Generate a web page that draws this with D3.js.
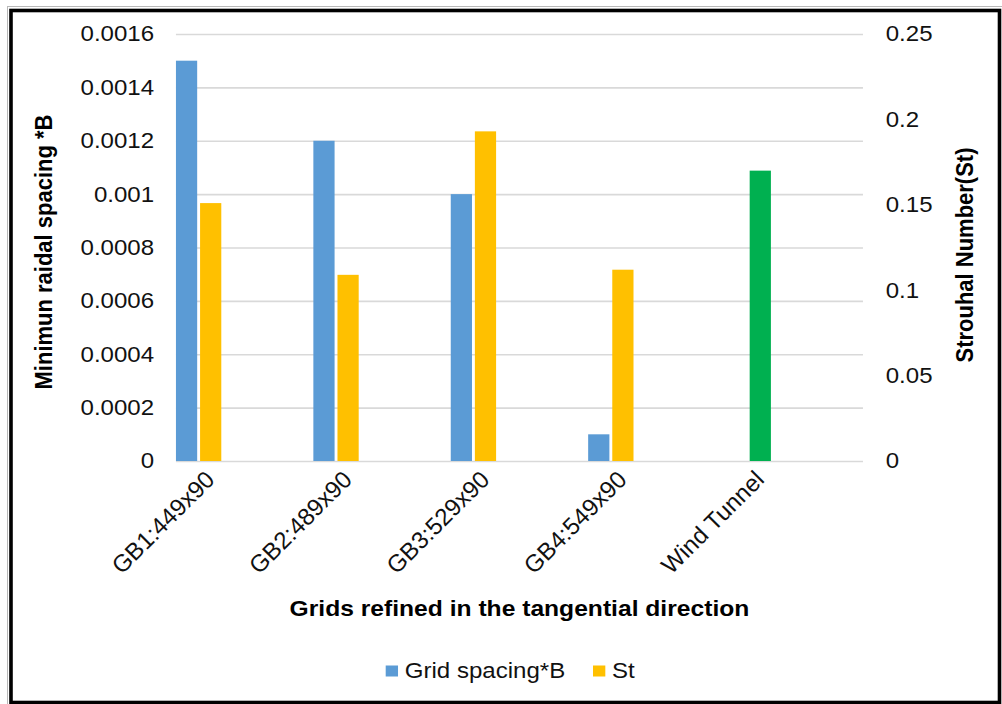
<!DOCTYPE html>
<html>
<head>
<meta charset="utf-8">
<script src="https://cdn.jsdelivr.net/npm/d3@7"></script>
<style>
  html, body { margin: 0; padding: 0; background: #fff; }
  svg { display: block; font-family: "Liberation Sans", Arial, sans-serif; }
</style>
</head>
<body>
<svg id="chart" width="1002" height="704"></svg>
<script>
// ---- data ----
const categories = ["GB1:449x90", "GB2:489x90", "GB3:529x90", "GB4:549x90", "Wind Tunnel"];
const gridSpacing = [0.0015, 0.0012, 0.001, 0.0001, null];
const stValues = [0.151, 0.109, 0.193, 0.112, 0.17];
const seriesNames = ["Grid spacing*B", "St"];
const leftTicks = [0, 0.0002, 0.0004, 0.0006, 0.0008, 0.001, 0.0012, 0.0014, 0.0016];
const leftTickLabels = ["0", "0.0002", "0.0004", "0.0006", "0.0008", "0.001", "0.0012", "0.0014", "0.0016"];
const rightTicks = [0, 0.05, 0.1, 0.15, 0.2, 0.25];
const rightTickLabels = ["0", "0.05", "0.1", "0.15", "0.2", "0.25"];
const leftTitle = "Minimun raidal spacing *B";
const rightTitle = "Strouhal Number(St)";
const xTitle = "Grids refined in the tangential direction";

// ---- styles ----
const colBlue = "#5b9bd5", colYellow = "#ffc000", colGreen = "#00b050";
const stretch = 1.12;           // horizontal stretch of the original picture
const plot = { left: 157.1, right: 770.5, top: 34, bottom: 461 };

const svg = d3.select("#chart");

// frame
svg.append("line").attr("x1", 7.5).attr("x2", 7.5).attr("y1", 6).attr("y2", 704).attr("stroke", "#b8b8b8").attr("stroke-width", 1);
svg.append("line").attr("x1", 7).attr("x2", 1002).attr("y1", 6.5).attr("y2", 6.5).attr("stroke", "#b8b8b8").attr("stroke-width", 1);
svg.append("rect").attr("x", 11).attr("y", 10.5).attr("width", 988.5).attr("height", 692)
  .attr("fill", "none").attr("stroke", "#000").attr("stroke-width", 3.6);

const g = svg.append("g").attr("transform", `scale(${stretch},1)`);

// scales
const x = d3.scaleBand().domain(categories).range([plot.left, plot.right]).paddingInner(0).paddingOuter(0);
const inner = d3.scaleBand().domain(seriesNames).range([0, x.bandwidth() * 0.33]).paddingInner(0.12).paddingOuter(0);
const yL = d3.scaleLinear().domain([0, 0.0016]).range([plot.bottom, plot.top]);
const yR = d3.scaleLinear().domain([0, 0.25]).range([plot.bottom, plot.top]);

// left axis with gridlines
const axL = g.append("g").attr("transform", `translate(${plot.left},0)`)
  .call(d3.axisLeft(yL).tickValues(leftTicks).tickSize(-(plot.right - plot.left)).tickPadding(19.5)
    .tickFormat((d, i) => leftTickLabels[i]));
axL.select(".domain").remove();
axL.selectAll("line").attr("stroke", "#d9d9d9").attr("stroke-width", 1.6);
axL.selectAll("text").attr("font-size", 21.5).attr("fill", "#111").attr("font-family", "Liberation Sans, Arial, sans-serif");

// right axis
const axR = g.append("g").attr("transform", `translate(${plot.right},0)`)
  .call(d3.axisRight(yR).tickValues(rightTicks).tickSize(0).tickPadding(20.3)
    .tickFormat((d, i) => rightTickLabels[i]));
axR.select(".domain").remove();
axR.selectAll("text").attr("font-size", 21.5).attr("fill", "#111").attr("font-family", "Liberation Sans, Arial, sans-serif");

// bars: grid spacing (left axis)
g.append("g").selectAll("rect.gs")
  .data(categories.map((c, i) => ({ c, v: gridSpacing[i] })).filter(d => d.v != null))
  .join("rect")
  .attr("x", d => x(d.c) + inner(seriesNames[0]))
  .attr("width", inner.bandwidth())
  .attr("y", d => yL(d.v))
  .attr("height", d => yL(0) - yL(d.v))
  .attr("fill", colBlue);

// bars: St (right axis)
g.append("g").selectAll("rect.st")
  .data(categories.map((c, i) => ({ c, v: stValues[i] })))
  .join("rect")
  .attr("x", d => x(d.c) + inner(seriesNames[1]))
  .attr("width", inner.bandwidth())
  .attr("y", d => yR(d.v))
  .attr("height", d => yR(0) - yR(d.v))
  .attr("fill", d => d.c === "Wind Tunnel" ? colGreen : colYellow);

// category labels (drawn unstretched, at 45 degrees)
const groupW = x.bandwidth() * 0.33;
svg.append("g").selectAll("text.cat")
  .data(categories)
  .join("text")
  .attr("transform", d => `translate(${(x(d) + groupW / 2) * stretch + 17.4},481) rotate(-45)`)
  .attr("text-anchor", "end")
  .attr("font-size", 24)
  .attr("fill", "#111")
  .text(d => d);

// axis titles
g.append("text")
  .attr("transform", `translate(${39.3 + 7.5},252) rotate(-90)`)
  .attr("text-anchor", "middle").attr("font-weight", "bold").attr("font-size", 22).attr("fill", "#000")
  .text(leftTitle);
g.append("text")
  .attr("transform", `translate(${861.6 + 7.5},255) rotate(-90)`)
  .attr("text-anchor", "middle").attr("font-weight", "bold").attr("font-size", 22).attr("fill", "#000")
  .text(rightTitle);
g.append("text")
  .attr("x", 463.8).attr("y", 616)
  .attr("text-anchor", "middle").attr("font-weight", "bold").attr("font-size", 22).attr("fill", "#000")
  .text(xTitle);

// legend
const legendItems = [
  { name: seriesNames[0], color: colBlue, x: 385.7 / stretch },
  { name: seriesNames[1], color: colYellow, x: 593 / stretch }
];
const lg = g.append("g").selectAll("g").data(legendItems).join("g")
  .attr("transform", d => `translate(${d.x},0)`);
lg.append("rect").attr("x", 0).attr("y", 665.5).attr("width", 11).attr("height", 11).attr("fill", d => d.color);
lg.append("text").attr("x", 17).attr("y", 678.5).attr("font-size", 21.5).attr("fill", "#111").text(d => d.name);
</script>
</body>
</html>
